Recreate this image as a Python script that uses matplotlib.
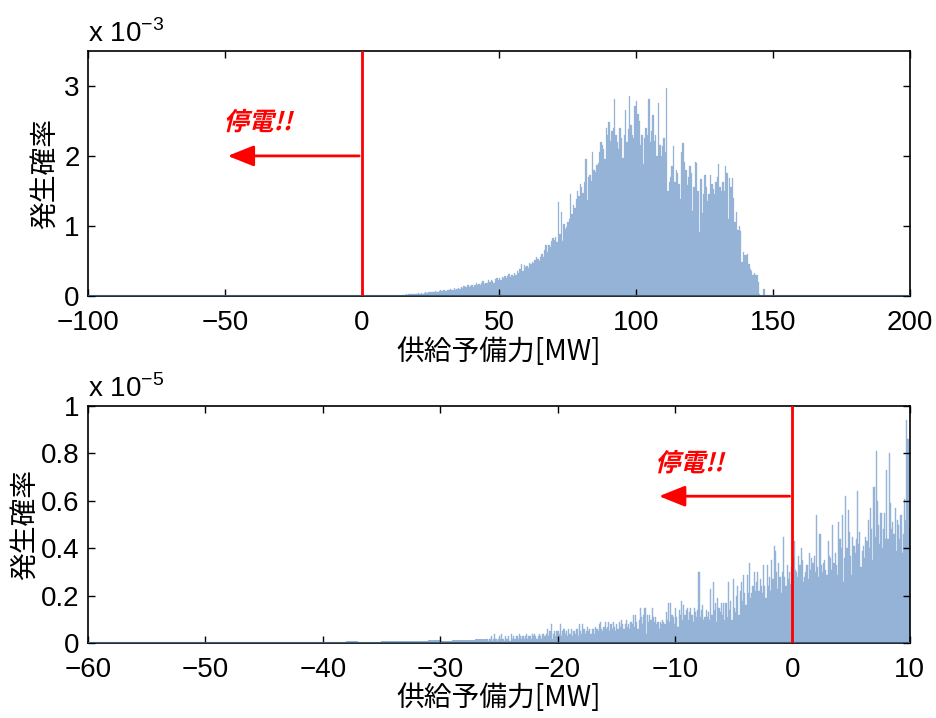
import numpy as np
import matplotlib
matplotlib.use("Agg")
import matplotlib.pyplot as plt
from matplotlib.ticker import FuncFormatter
from matplotlib.patches import FancyArrowPatch
from matplotlib.patheffects import AbstractPathEffect
from matplotlib.transforms import Affine2D

plt.rcParams['font.family'] = ['Noto Sans CJK JP', 'DejaVu Sans']
plt.rcParams['mathtext.fontset'] = 'custom'
plt.rcParams['mathtext.rm'] = 'Liberation Sans'

# ---------------- data ----------------
# Upper panel: histogram of supply reserve, bins of 0.5 MW starting at 15 MW,
# occurrence probability in units of 1e-3
top_start = 15.0
top_width = 0.5
top_prob_e3 = [
    0.01, 0.01, 0.02, 0.01, 0.02, 0.02, 0.03, 0.02, 0.03, 0.02,
    0.03, 0.04, 0.03, 0.04, 0.03, 0.04, 0.05, 0.04, 0.05, 0.05,
    0.06, 0.05, 0.06, 0.07, 0.06, 0.05, 0.07, 0.08, 0.07, 0.08,
    0.08, 0.07, 0.09, 0.08, 0.10, 0.09, 0.08, 0.11, 0.09, 0.10,
    0.11, 0.10, 0.12, 0.11, 0.14, 0.12, 0.13, 0.15, 0.12, 0.14,
    0.15, 0.13, 0.16, 0.18, 0.15, 0.17, 0.16, 0.19, 0.21, 0.17,
    0.19, 0.18, 0.22, 0.20, 0.23, 0.21, 0.19, 0.24, 0.26, 0.22,
    0.25, 0.23, 0.27, 0.25, 0.29, 0.26, 0.28, 0.31, 0.27, 0.30,
    0.29, 0.33, 0.30, 0.35, 0.32, 0.38, 0.46, 0.36, 0.44, 0.41,
    0.43, 0.40, 0.47, 0.45, 0.49, 0.47, 0.51, 0.55, 0.53, 0.50,
    0.56, 0.60, 0.55, 0.66, 0.73, 0.62, 0.73, 0.70, 0.78, 0.82,
    0.80, 0.84, 0.77, 1.34, 0.88, 1.20, 0.78, 1.02, 0.96, 0.99,
    1.05, 1.10, 1.45, 1.17, 1.30, 1.25, 1.38, 1.50, 1.42, 1.60,
    1.55, 1.47, 1.62, 1.95, 1.37, 1.70, 1.73, 1.64, 2.06, 1.80,
    1.77, 1.87, 1.90, 2.05, 2.20, 2.16, 2.10, 1.95, 2.40, 2.30,
    2.48, 2.22, 2.35, 2.40, 2.81, 2.30, 2.20, 2.10, 2.40, 2.25,
    1.97, 2.30, 2.65, 2.20, 2.38, 2.86, 2.44, 2.30, 2.26, 2.72,
    2.78, 2.60, 2.50, 2.16, 2.30, 1.89, 2.25, 2.40, 2.30, 2.82,
    2.20, 2.35, 2.59, 2.22, 2.30, 2.00, 2.75, 2.15, 2.00, 2.14,
    2.25, 2.05, 2.97, 1.50, 1.62, 1.70, 1.85, 2.14, 1.63, 1.80,
    1.75, 1.60, 1.39, 2.05, 2.18, 1.92, 1.80, 1.58, 1.70, 1.86,
    1.75, 1.21, 1.55, 1.92, 1.90, 1.50, 0.91, 1.67, 1.18, 1.45,
    1.73, 1.55, 1.35, 1.45, 1.72, 1.60, 1.52, 1.45, 1.62, 1.70,
    1.88, 1.55, 1.50, 1.62, 1.50, 1.86, 1.75, 1.10, 1.68, 1.55,
    1.68, 1.40, 1.05, 1.20, 0.94, 1.00, 0.93, 0.49, 0.62, 0.58,
    0.58, 0.60, 0.45, 0.39, 0.35, 0.30, 0.32, 0.30, 0.30, 0.20,
    0.02, 0.00, 0.00, 0.10,
]

# Lower panel: close-up of the low-reserve tail, bins of 0.1 MW from -26 MW,
# occurrence probability in units of 1e-5
bot_start = -26.0
bot_width = 0.1
bot_prob_e5 = [
    0.02, 0.01, 0.02, 0.03, 0.01, 0.02, 0.04, 0.02, 0.01, 0.02,
    0.03, 0.02, 0.04, 0.02, 0.01, 0.03, 0.02, 0.02, 0.03, 0.01,
    0.04, 0.02, 0.03, 0.02, 0.02, 0.03, 0.02, 0.04, 0.03, 0.02,
    0.03, 0.02, 0.03, 0.04, 0.02, 0.03, 0.03, 0.02, 0.04, 0.03,
    0.04, 0.03, 0.02, 0.03, 0.04, 0.03, 0.02, 0.04, 0.03, 0.03,
    0.04, 0.06, 0.03, 0.05, 0.08, 0.02, 0.04, 0.05, 0.03, 0.05,
    0.05, 0.04, 0.08, 0.03, 0.05, 0.06, 0.04, 0.05, 0.03, 0.06,
    0.04, 0.06, 0.03, 0.05, 0.05, 0.04, 0.06, 0.03, 0.08, 0.05,
    0.04, 0.08, 0.06, 0.04, 0.05, 0.07, 0.05, 0.06, 0.04, 0.06,
    0.06, 0.04, 0.07, 0.06, 0.05, 0.08, 0.09, 0.06, 0.05, 0.07,
    0.09, 0.06, 0.07, 0.09, 0.05, 0.08, 0.06, 0.09, 0.07, 0.05,
    0.08, 0.06, 0.09, 0.07, 0.10, 0.08, 0.06, 0.08, 0.10, 0.07,
    0.08, 0.06, 0.09, 0.08, 0.12, 0.07, 0.12, 0.09, 0.06, 0.10,
    0.15, 0.11, 0.08, 0.12, 0.15, 0.04, 0.12, 0.09, 0.12, 0.10,
    0.15, 0.11, 0.09, 0.11, 0.08, 0.09, 0.06, 0.09, 0.08, 0.10,
    0.09, 0.08, 0.13, 0.10, 0.17, 0.09, 0.17, 0.12, 0.11, 0.08,
    0.15, 0.11, 0.07, 0.14, 0.12, 0.18, 0.10, 0.16, 0.12, 0.14,
    0.15, 0.10, 0.13, 0.15, 0.12, 0.09, 0.15, 0.13, 0.11, 0.14,
    0.30, 0.11, 0.14, 0.16, 0.10, 0.11, 0.14, 0.11, 0.13, 0.10,
    0.23, 0.12, 0.26, 0.14, 0.17, 0.09, 0.19, 0.15, 0.13, 0.17,
    0.12, 0.17, 0.10, 0.17, 0.11, 0.26, 0.14, 0.18, 0.10, 0.27,
    0.15, 0.13, 0.20, 0.24, 0.12, 0.22, 0.26, 0.18, 0.29, 0.21,
    0.16, 0.29, 0.21, 0.34, 0.19, 0.21, 0.24, 0.30, 0.22, 0.26,
    0.30, 0.22, 0.27, 0.24, 0.21, 0.33, 0.24, 0.19, 0.33, 0.24,
    0.28, 0.22, 0.35, 0.27, 0.41, 0.39, 0.30, 0.23, 0.34, 0.28,
    0.21, 0.30, 0.45, 0.28, 0.24, 0.33, 0.27, 0.30, 0.25, 0.32,
    0.36, 0.43, 0.31, 0.30, 0.28, 0.37, 0.33, 0.40, 0.35, 0.26,
    0.28, 0.30, 0.33, 0.27, 0.38, 0.31, 0.36, 0.34, 0.37, 0.30,
    0.54, 0.32, 0.28, 0.46, 0.33, 0.30, 0.34, 0.35, 0.31, 0.29,
    0.43, 0.37, 0.36, 0.31, 0.50, 0.34, 0.38, 0.33, 0.29, 0.51,
    0.44, 0.40, 0.54, 0.26, 0.36, 0.62, 0.40, 0.56, 0.47, 0.37,
    0.29, 0.45, 0.41, 0.38, 0.44, 0.64, 0.42, 0.47, 0.32, 0.39,
    0.41, 0.36, 0.45, 0.43, 0.52, 0.40, 0.57, 0.48, 0.35, 0.66,
    0.45, 0.81, 0.60, 0.50, 0.42, 0.55, 0.40, 0.48, 0.55, 0.44,
    0.73, 0.44, 0.80, 0.59, 0.48, 0.51, 0.46, 0.57, 0.39, 0.52,
    0.50, 0.44, 0.54, 0.38, 0.46, 0.61, 0.52, 0.94, 0.86, 0.49,
]

# Far tail of the lower panel, 1 MW bins from -60 MW (units of 1e-5)
tail_start = -60.0
tail_width = 1.0
tail_prob_e5 = [
    0.002, 0.003, 0.002, 0.002, 0.003, 0.002, 0.003, 0.003, 0.002, 0.004,
    0.003, 0.003, 0.004, 0.003, 0.004, 0.005, 0.004, 0.004, 0.005, 0.006,
    0.006, 0.005, 0.008, 0.007, 0.006, 0.009, 0.008, 0.010, 0.009, 0.012,
    0.011, 0.013, 0.015, 0.017,
]

top_xticks = [-100, -50, 0, 50, 100, 150, 200]
top_yticks_e3 = [0, 1, 2, 3]
bot_xticks = [-60, -50, -40, -30, -20, -10, 0, 10]
bot_yticks_e5 = [0, 0.2, 0.4, 0.6, 0.8, 1.0]

xlabel = '供給予備力[MW]'
ylabel = '発生確率'
blackout_label = '停電!!'


class Oblique(AbstractPathEffect):
    """Slant glyph outlines to the right (the CJK font has no italic face)."""

    def __init__(self, angle=14):
        super().__init__()
        self._skew = Affine2D().skew_deg(angle, 0)

    def draw_path(self, renderer, gc, tpath, affine, rgbFace=None):
        renderer.draw_path(gc, tpath, self._skew + affine, rgbFace)


# ---------------- drawing ----------------
bar_color = '#95b3d7'
base_color = '#3d5b7c'
red = '#ff0000'
num_font = ['Liberation Sans', 'DejaVu Sans']

fig = plt.figure(figsize=(9.36, 7.18), dpi=100)
ax1 = fig.add_axes([0.094, 0.588, 0.878, 0.341])
ax2 = fig.add_axes([0.094, 0.104, 0.878, 0.3305])

tick_fs = 20
label_fs = 20


def style_axes(ax):
    ax.tick_params(direction='in', top=True, right=True, length=5,
                   width=1, labelsize=tick_fs)
    ax.tick_params(axis='x', pad=10)
    ax.tick_params(axis='y', pad=6)
    for lbl in ax.get_xticklabels() + ax.get_yticklabels():
        lbl.set_fontfamily(num_font)
    for s in ax.spines.values():
        s.set_linewidth(1.2)
        s.set_color('black')


def minus_fmt(v, p):
    return f'{v:g}'.replace('-', '\u2212')


# upper panel
scale1 = 1e-3
edges1 = top_start + top_width * np.arange(len(top_prob_e3))
ax1.bar(edges1, np.array(top_prob_e3) * scale1, width=top_width,
        align='edge', color=bar_color, edgecolor=bar_color, linewidth=0.2)
ax1.plot([-100, 200], [0, 0], color=base_color, lw=1.5, zorder=3)
ax1.set_xlim(-100, 200)
ax1.set_ylim(0, 3.5e-3)
ax1.set_xticks(top_xticks)
ax1.set_yticks(np.array(top_yticks_e3) * scale1)
ax1.yaxis.set_major_formatter(FuncFormatter(lambda v, p: f'{v / scale1:g}'))
ax1.xaxis.set_major_formatter(FuncFormatter(minus_fmt))
style_axes(ax1)
ax1.set_xlabel(xlabel, fontsize=label_fs, labelpad=1)
ax1.set_ylabel(ylabel, fontsize=label_fs, labelpad=2)
ax1.text(0.0, 1.012, r'x 10$^{-3}$', transform=ax1.transAxes,
         fontsize=20, va='bottom', ha='left', family=num_font)

ax1.axvline(0, color=red, lw=2, zorder=4)
ax1.add_patch(FancyArrowPatch((0, 2.0e-3), (-50, 2.0e-3),
                              arrowstyle='-|>,head_length=1.0,head_width=0.4',
                              mutation_scale=16, color=red, lw=2, zorder=4))
ax1.text(-50.5, 2.47e-3, blackout_label, color=red, fontsize=18,
         fontweight='bold', va='center', ha='left',
         path_effects=[Oblique()])

# lower panel
scale2 = 1e-5
edges_tail = tail_start + tail_width * np.arange(len(tail_prob_e5))
ax2.bar(edges_tail, np.array(tail_prob_e5) * scale2, width=tail_width,
        align='edge', color=bar_color, linewidth=0)
edges2 = bot_start + bot_width * np.arange(len(bot_prob_e5))
ax2.bar(edges2, np.array(bot_prob_e5) * scale2, width=bot_width,
        align='edge', color=bar_color, edgecolor=bar_color, linewidth=0.3)
ax2.plot([-60, 10], [0, 0], color=base_color, lw=1.5, zorder=3)
ax2.set_xlim(-60, 10)
ax2.set_ylim(0, 1e-5)
ax2.set_xticks(bot_xticks)
ax2.set_yticks(np.array(bot_yticks_e5) * scale2)
ax2.yaxis.set_major_formatter(FuncFormatter(lambda v, p: f'{v / scale2:g}'))
ax2.xaxis.set_major_formatter(FuncFormatter(minus_fmt))
style_axes(ax2)
ax2.set_xlabel(xlabel, fontsize=label_fs, labelpad=0)
ax2.set_ylabel(ylabel, fontsize=label_fs, labelpad=0)
ax2.text(0.0, 1.012, r'x 10$^{-5}$', transform=ax2.transAxes,
         fontsize=20, va='bottom', ha='left', family=num_font)

ax2.axvline(0, color=red, lw=2, zorder=4)
ax2.add_patch(FancyArrowPatch((0, 0.62e-5), (-11.6, 0.62e-5),
                              arrowstyle='-|>,head_length=1.0,head_width=0.4',
                              mutation_scale=16, color=red, lw=2, zorder=4))
ax2.text(-11.7, 0.755e-5, blackout_label, color=red, fontsize=18,
         fontweight='bold', va='center', ha='left',
         path_effects=[Oblique()])

fig.savefig('out.png', dpi=100)
